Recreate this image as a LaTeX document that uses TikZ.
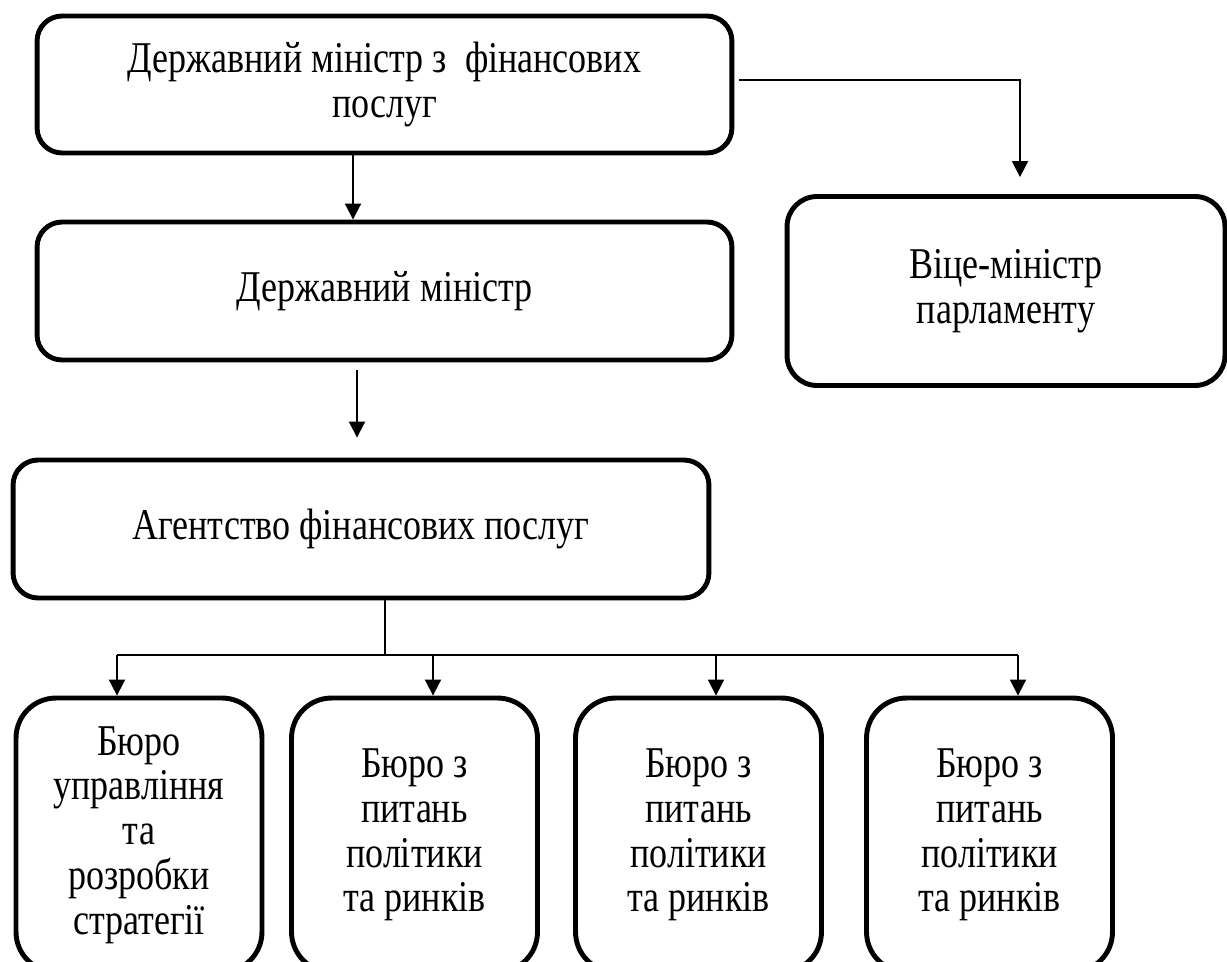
\documentclass[tikz,border=0pt]{standalone}
\usepackage{fontspec}
\setmainfont{Liberation Serif}[FakeStretch=0.82]
\usetikzlibrary{arrows.meta}
\usetikzlibrary{calc}

\begin{document}
\begin{tikzpicture}[x=0.02cm,y=-0.02cm,line width=1.1pt]
          \tikzstyle{every node}=[font=\fontsize{25}{25.5}\selectfont, align=center]
          \tikzstyle{unit}=[draw, line width=2.8pt, rounded corners=0.5cm, inner sep=0pt]
          \tikzstyle{bureau}=[unit, rounded corners=0.8cm, minimum width=4.92cm, minimum height=5.48cm]
          \tikzstyle{arr}=[-{Triangle[width=0.32cm,length=0.32cm]}]
          \useasboundingbox (0,0) rectangle (1227,962);
          \clip (0,0) rectangle (1227,962);
          %
          \node [unit, minimum width=13.9cm, minimum height=2.74cm] (dm)   at (384.5,84.5) {Державний міністр з\ \ фінансових\\послуг};
          \node [unit, minimum width=13.9cm, minimum height=2.76cm] (dmin) at (384.5,291)  {Державний міністр};
          \node [unit, minimum width=13.92cm, minimum height=2.76cm] (afp) at (361,529)    {Агентство фінансових послуг};
          \node [unit, rounded corners=0.6cm, minimum width=8.76cm, minimum height=3.78cm] (vm) at (1006,291) {Віце-міністр\\парламенту};
          %
          \node [bureau] (b1) at (139,835)   {Бюро\\управління\\та\\розробки\\стратегії};
          \node [bureau] (b2) at (414.5,835) {Бюро з\\питань\\політики\\та ринків};
          \node [bureau] (b3) at (698.5,835) {Бюро з\\питань\\політики\\та ринків};
          \node [bureau] (b4) at (989.5,835) {Бюро з\\питань\\політики\\та ринків};
          %
          \coordinate (s1) at ($(dm.south)+(-31.5,0)$);
          \coordinate (s2) at ($(dmin.south)+(-27.5,8)$);
          \coordinate (hub) at ($(afp.south)+(24,55)$);
          \draw [arr] (s1) -- (s1 |- dmin.north);
          \draw [arr] (s2) -- ($(s2 |- afp.north)+(0,-20)$);
          \draw [arr] ($(dm.east)+(5,-4.5)$) -| ($(vm.north)+(14,-17)$);
          \draw (afp.south -| hub) -- (hub);
          \foreach \b/\dx in {b1/-22,b2/18.5,b3/17.5,b4/28.5} {
            \coordinate (t\b) at ($(\b.north)+(\dx,0)$);
            \draw [arr] (t\b |- hub) -- (t\b);
          }
          \draw (tb1 |- hub) -- (tb4 |- hub);
\end{tikzpicture}
\end{document}
